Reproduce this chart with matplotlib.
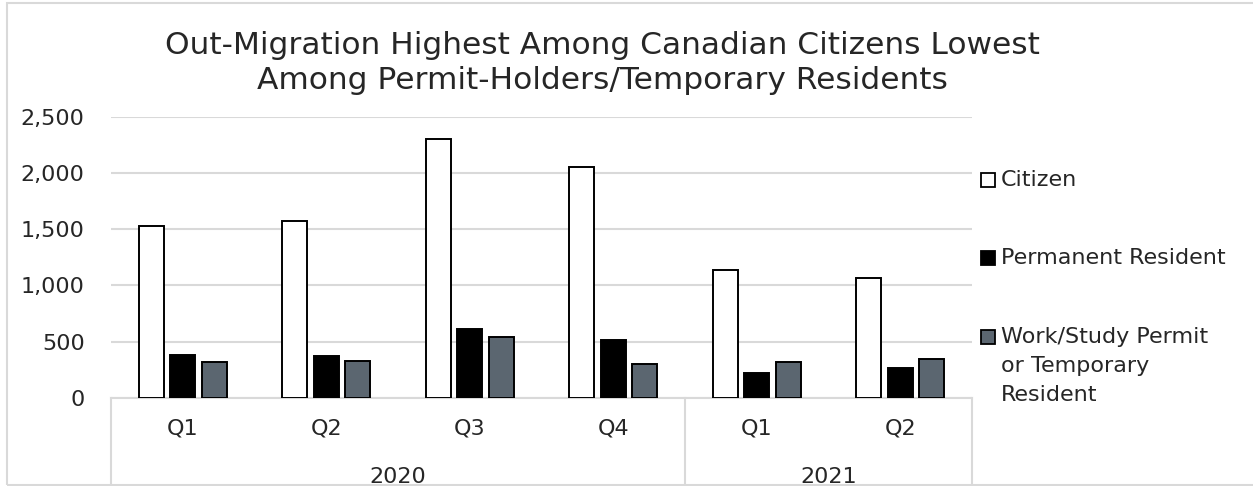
import matplotlib.pyplot as plt
from matplotlib.patches import Rectangle
from matplotlib.ticker import FuncFormatter

plt.rcParams["font.family"] = ["DejaVu Sans"]

quarters = ["Q1", "Q2", "Q3", "Q4", "Q1", "Q2"]
years = ["2020", "2021"]
year_spans = [(0, 3), (4, 5)]
citizen = [1525, 1570, 2300, 2050, 1135, 1070]
permanent = [383, 377, 615, 517, 226, 265]
temporary = [324, 332, 546, 303, 321, 345]

labels = ["Citizen", "Permanent Resident", "Work/Study Permit\nor Temporary\nResident"]
values = [citizen, permanent, temporary]
colors = ["white", "black", "#5b6670"]

W, H = 1253, 486
fig = plt.figure(figsize=(W / 100, H / 100), dpi=100)
ax = fig.add_axes([111 / W, 1 - 398 / H, 861 / W, (398 - 116.5) / H])

width = 0.175
step = 0.219
x = list(range(len(quarters)))
for i, (name, vals, color) in enumerate(zip(labels, values, colors)):
    pos = [xi + (i - 1) * step for xi in x]
    ax.bar(pos, vals, width, color=color, edgecolor="black", linewidth=1.4,
           label=name, zorder=3)

ax.set_xlim(-0.5, len(quarters) - 0.5)
ax.set_ylim(0, 2500)
ax.set_yticks(range(0, 2501, 500))
ax.yaxis.set_major_formatter(FuncFormatter(lambda v, p: f"{int(v):,}"))
ax.grid(axis="y", color="#d9d9d9", linewidth=1.5, zorder=0)
for s in ["top", "right", "left"]:
    ax.spines[s].set_visible(False)
ax.spines["bottom"].set_color("#d9d9d9")
ax.spines["bottom"].set_linewidth(1.5)
ax.tick_params(axis="y", length=0, pad=19, labelsize=16, colors="#262626")
ax.set_xticks(x)
ax.set_xticklabels(quarters)
ax.tick_params(axis="x", length=0, pad=15, labelsize=16, colors="#262626")

# two-level category separators
tr = ax.get_xaxis_transform()
for xs in [-0.5, 3.5, 5.5]:
    ax.plot([xs, xs], [0, -0.35], transform=tr, color="#d9d9d9",
            linewidth=1.5, clip_on=False)
for yr, (a, b) in zip(years, year_spans):
    ax.annotate(yr, xy=((a + b) / 2, 0), xycoords=tr, xytext=(0, -57),
                textcoords="offset points", ha="center", va="center",
                fontsize=16, color="#262626")

# legend drawn by hand so the marker sits on the first line
legend_y = [180, 258, 337]
line_gap = 29
for name, color, yc in zip(labels, colors, legend_y):
    fig.patches.append(Rectangle((981 / W, 1 - (yc + 7) / H), 14 / W, 14 / H,
                                 transform=fig.transFigure, facecolor=color,
                                 edgecolor="black", linewidth=1.3))
    for k, line in enumerate(name.split("\n")):
        fig.text(1001 / W, 1 - (yc + k * line_gap) / H, line, ha="left",
                 va="center", fontsize=16, color="#262626")

fig.text(0.481, 1 - 63 / H,
         "Out-Migration Highest Among Canadian Citizens Lowest\n"
         "Among Permit-Holders/Temporary Residents",
         ha="center", va="center", fontsize=22.5, color="#262626",
         linespacing=1.26)

fig.patches.append(Rectangle((7 / W, 1 / H), 1.1, 1 - 4 / H,
                             transform=fig.transFigure, fill=False,
                             edgecolor="#d9d9d9", linewidth=1.5))

fig.savefig("out.png", dpi=100)
